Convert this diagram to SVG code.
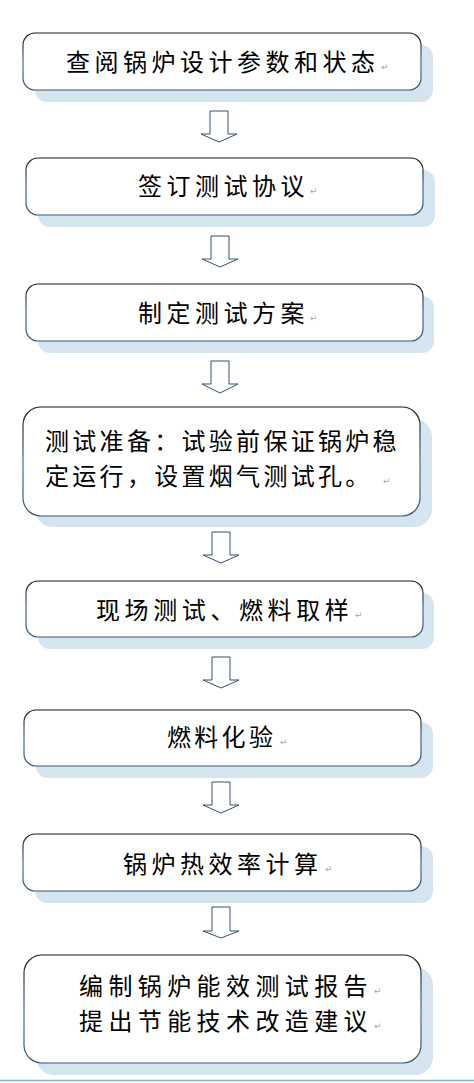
<svg xmlns="http://www.w3.org/2000/svg" width="474" height="1083" viewBox="0 0 474 1083">
<defs>
<linearGradient id="edge" x1="0" y1="0" x2="0" y2="1">
<stop offset="0" stop-color="#1a1a1a"/>
<stop offset="0.5" stop-color="#4a6a8c"/>
<stop offset="1" stop-color="#3a5574"/>
</linearGradient>
<style>
.shadow{fill:#d5e5f0;}
.box{fill:#ffffff;stroke:url(#edge);stroke-width:1.2;}
.t{font-family:"Noto Sans CJK SC","Noto Sans CJK JP",sans-serif;font-size:24px;fill:#000;letter-spacing:4.5px;}
.pm{font-family:"DejaVu Sans",sans-serif;font-size:9px;fill:#a8a8a8;}
.arrow{fill:#ffffff;stroke:#34506e;stroke-width:1;stroke-linejoin:miter;}
</style>
</defs>
<rect x="0" y="0" width="474" height="1083" fill="#ffffff"/>

<g id="node1">
<rect class="shadow" x="35" y="45" width="398" height="57" rx="12"/>
<rect class="box" x="23" y="33" width="398" height="57" rx="12"/>
<text class="t" x="66" y="71">查阅锅炉设计参数和状态</text>
<text class="pm" x="381" y="70">↵</text>
</g>

<g id="node2">
<rect class="shadow" x="38" y="170" width="397" height="57" rx="12"/>
<rect class="box" x="26" y="158" width="397" height="57" rx="12"/>
<text class="t" x="138" y="195">签订测试协议</text>
<text class="pm" x="310" y="194">↵</text>
</g>

<g id="node3">
<rect class="shadow" x="38" y="296" width="396" height="57" rx="12"/>
<rect class="box" x="26" y="284" width="397" height="57" rx="12"/>
<text class="t" x="138" y="322">制定测试方案</text>
<text class="pm" x="310" y="321">↵</text>
</g>

<g id="node4">
<rect class="shadow" x="35" y="419" width="397" height="108" rx="18"/>
<rect class="box" x="23" y="407" width="397" height="109" rx="18"/>
<text class="t" x="45" y="450" style="letter-spacing:3.3px">测试准备：试验前保证锅炉稳</text>
<text class="t" x="45" y="485" style="letter-spacing:3.3px">定运行，设置烟气测试孔。</text>
<text class="pm" x="383" y="484">↵</text>
</g>

<g id="node5">
<rect class="shadow" x="38" y="593" width="396" height="56" rx="12"/>
<rect class="box" x="26" y="581" width="397" height="56" rx="12"/>
<text class="t" x="96" y="619" style="letter-spacing:4.6px">现场测试、燃料取样</text>
<text class="pm" x="355" y="618">↵</text>
</g>

<g id="node6">
<rect class="shadow" x="36" y="722" width="397" height="56" rx="12"/>
<rect class="box" x="24" y="710" width="397" height="56" rx="12"/>
<text class="t" x="167" y="746" style="letter-spacing:3.3px">燃料化验</text>
<text class="pm" x="280" y="745">↵</text>
</g>

<g id="node7">
<rect class="shadow" x="35" y="846" width="398" height="57" rx="12"/>
<rect class="box" x="23" y="834" width="398" height="57" rx="12"/>
<text class="t" x="123" y="873">锅炉热效率计算</text>
<text class="pm" x="325" y="872">↵</text>
</g>

<g id="node8">
<rect class="shadow" x="36" y="967" width="397" height="108" rx="18"/>
<rect class="box" x="24" y="955" width="397" height="108" rx="18"/>
<text class="t" x="79" y="995" style="letter-spacing:5.4px">编制锅炉能效测试报告</text>
<text class="pm" x="374" y="994">↵</text>
<text class="t" x="79" y="1030" style="letter-spacing:5.4px">提出节能技术改造建议</text>
<text class="pm" x="374" y="1029">↵</text>
</g>

<g id="connectors">
<polygon class="arrow" points="210,111 228,111 228,134 237,134 219,142 201,134 210,134"/>
<polygon class="arrow" points="211,236 229,236 229,259 238,259 220,267 202,259 211,259"/>
<polygon class="arrow" points="211,361 229,361 229,384 238,384 220,393 202,384 211,384"/>
<polygon class="arrow" points="212,532 230,532 230,555 239,555 221,563 203,555 212,555"/>
<polygon class="arrow" points="212,657 230,657 230,680 239,680 221,688 203,680 212,680"/>
<polygon class="arrow" points="212,782 230,782 230,805 239,805 221,813 203,805 212,805"/>
<polygon class="arrow" points="212,907 230,907 230,931 239,931 221,938 203,931 212,931"/>
</g>

<line x1="0" y1="1080.5" x2="474" y2="1080.5" stroke="#7fb0d8" stroke-width="1.5"/>
</svg>
